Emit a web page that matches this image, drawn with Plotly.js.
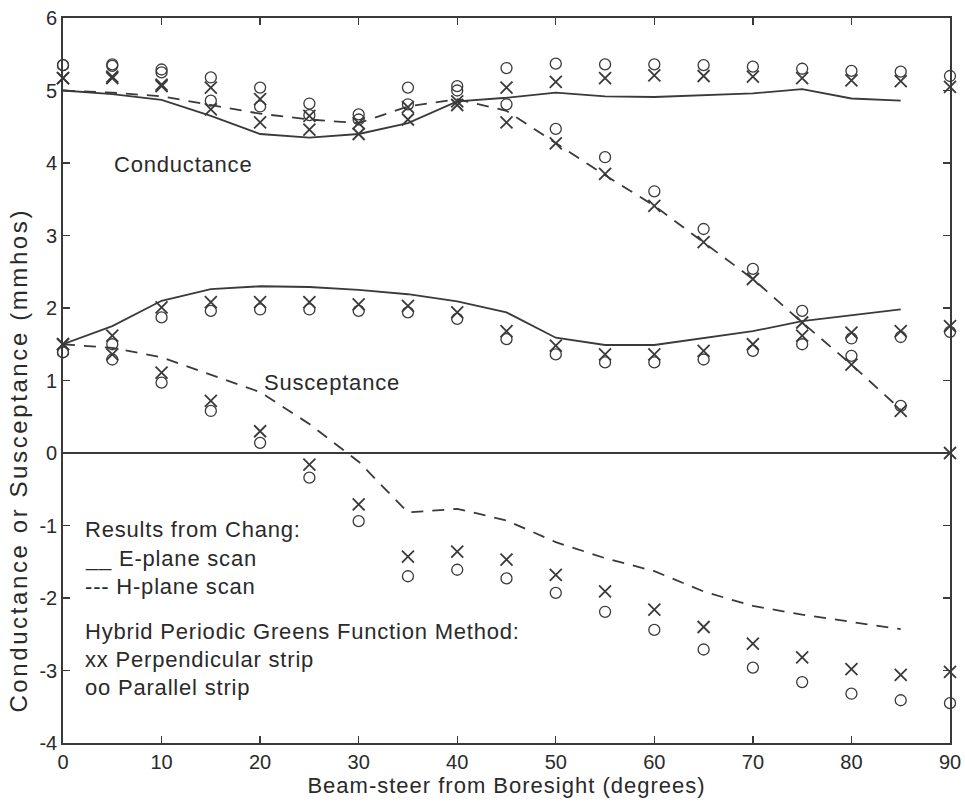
<!DOCTYPE html>
<html>
<head>
<meta charset="utf-8">
<script src="https://cdn.plot.ly/plotly-3.0.1.min.js"></script>
<style>
html,body{margin:0;padding:0;background:#fff;}
#chart{width:965px;height:806px;}
text.annotation-text{letter-spacing:0.8px;}
text.xtitle{letter-spacing:1px;}
</style>
</head>
<body>
<div id="chart"></div>
<script>
// Angles (degrees)
const lineAngles = [0,5,10,15,20,25,30,35,40,45,50,55,60,65,70,75,80,85];
const markerAngles = [0,5,10,15,20,25,30,35,40,45,50,55,60,65,70,75,80,85,90];

// Results from Chang (lines)
const changCondE = [5.0,4.95,4.87,4.65,4.40,4.35,4.40,4.55,4.85,4.90,4.97,4.92,4.91,4.93,4.96,5.02,4.89,4.86];
const changCondH = [5.0,4.97,4.92,4.80,4.68,4.60,4.55,4.78,4.88,4.72,4.27,3.83,3.41,2.91,2.40,1.80,1.22,0.60];
const changSuscE = [1.5,1.75,2.10,2.26,2.30,2.29,2.25,2.19,2.09,1.94,1.59,1.49,1.49,1.58,1.68,1.82,1.90,1.98];
const changSuscH = [1.5,1.45,1.32,1.08,0.84,0.40,-0.12,-0.82,-0.77,-0.93,-1.23,-1.45,-1.63,-1.91,-2.11,-2.23,-2.33,-2.43];

// Hybrid Periodic Greens Function Method (markers)
const condEPerp = [5.17,5.17,5.06,4.74,4.56,4.46,4.40,4.60,4.80,5.04,5.12,5.17,5.21,5.20,5.19,5.17,5.14,5.13,5.05];
const condEPar  = [5.35,5.34,5.25,4.86,4.78,4.66,4.60,4.81,5.00,5.31,5.37,5.36,5.36,5.35,5.33,5.30,5.27,5.26,5.20];
const condHPerp = [5.17,5.19,5.08,5.04,4.88,4.65,4.55,4.77,4.85,4.56,4.27,3.85,3.41,2.91,2.40,1.80,1.22,0.58,0];
const condHPar  = [5.35,5.36,5.29,5.18,5.04,4.82,4.67,5.04,5.06,4.81,4.47,4.08,3.61,3.09,2.54,1.96,1.34,0.65,null];
const suscEPerp = [1.50,1.62,2.01,2.08,2.08,2.08,2.05,2.03,1.94,1.68,1.48,1.36,1.36,1.41,1.50,1.62,1.66,1.68,1.75];
const suscEPar  = [1.39,1.50,1.87,1.96,1.98,1.98,1.96,1.94,1.85,1.57,1.36,1.25,1.25,1.29,1.41,1.50,1.58,1.60,1.67];
const suscHPerp = [1.50,1.36,1.11,0.72,0.30,-0.16,-0.71,-1.43,-1.36,-1.47,-1.68,-1.91,-2.16,-2.40,-2.63,-2.82,-2.98,-3.06,-3.02];
const suscHPar  = [1.39,1.29,0.97,0.58,0.14,-0.34,-0.94,-1.70,-1.61,-1.73,-1.93,-2.19,-2.44,-2.71,-2.96,-3.16,-3.32,-3.41,-3.45];

const xTicks = [0,10,20,30,40,50,60,70,80,90];
const yTicks = [-4,-3,-2,-1,0,1,2,3,4,5,6];

const ink = '#3a3a3a';
const txt = '#2a2a2a';
const font = 'Liberation Sans, Arial, Helvetica, sans-serif';

function lineTrace(y, dashed) {
  return {x: lineAngles, y: y, mode: 'lines', type: 'scatter', hoverinfo: 'skip',
    line: {color: ink, width: 1.8, dash: dashed ? '12px,9px' : 'solid', shape: 'linear'}};
}
function markTrace(y, sym) {
  const isX = sym === 'x';
  return {x: markerAngles, y: y, mode: 'markers', type: 'scatter', hoverinfo: 'skip', cliponaxis: false,
    marker: {symbol: isX ? 'x-thin-open' : 'circle-open', size: isX ? 12 : 11,
      color: ink, line: {color: ink, width: isX ? 1.8 : 1.3}}};
}

const data = [
  lineTrace(changCondE, false), lineTrace(changCondH, true),
  lineTrace(changSuscE, false), lineTrace(changSuscH, true),
  markTrace(condEPerp, 'x'), markTrace(condEPar, 'o'),
  markTrace(condHPerp, 'x'), markTrace(condHPar, 'o'),
  markTrace(suscEPerp, 'x'), markTrace(suscEPar, 'o'),
  markTrace(suscHPerp, 'x'), markTrace(suscHPar, 'o')
];

const annFont = {family: font, size: 22, color: txt};
function note(text, x, y) {
  return {text: text, x: x, y: y, xref: 'x', yref: 'y', showarrow: false,
    xanchor: 'left', yanchor: 'middle', font: annFont};
}

const layout = {
  width: 965, height: 806,
  margin: {l: 63, r: 15, t: 18, b: 63},
  paper_bgcolor: '#fff', plot_bgcolor: '#fff',
  showlegend: false,
  font: {family: font, size: 20, color: txt},
  xaxis: {
    range: [0, 90], tickvals: xTicks, ticktext: xTicks.map(String),
    ticks: 'inside', ticklen: 7, tickwidth: 1.3, tickcolor: ink,
    showline: true, linecolor: ink, linewidth: 1.8, mirror: 'ticks',
    showgrid: false, zeroline: false,
    tickfont: {family: font, size: 20, color: txt},
    title: {text: 'Beam-steer from Boresight (degrees)', font: {family: font, size: 22, color: txt}, standoff: 3}
  },
  yaxis: {
    range: [-4, 6], tickvals: yTicks, ticktext: yTicks.map(String),
    ticks: 'inside', ticklen: 7, tickwidth: 1.3, tickcolor: ink,
    showline: true, linecolor: ink, linewidth: 1.8, mirror: 'ticks',
    showgrid: false, zeroline: true, zerolinecolor: ink, zerolinewidth: 1.8,
    tickfont: {family: font, size: 20, color: txt}
  },
  annotations: [
    {text: 'Conductance or Susceptance (mmhos)', xref: 'paper', yref: 'paper',
     x: -0.051, y: 0.39, textangle: -90, showarrow: false,
     xanchor: 'center', yanchor: 'middle',
     font: {family: font, size: 24, color: txt}},
    note('Conductance', 5, 3.98),
    note('Susceptance', 20.2, 0.97),
    note('Results from Chang:', 2, -1.05),
    note('__ E-plane scan', 2, -1.45),
    note('--- H-plane scan', 2, -1.84),
    note('Hybrid Periodic Greens Function Method:', 2, -2.46),
    note('xx Perpendicular strip', 2, -2.85),
    note('oo Parallel strip', 2, -3.23)
  ]
};

Plotly.newPlot('chart', data, layout, {staticPlot: true, displayModeBar: false}).then(function () {
  // widen the rotated axis caption to the reference's length
  document.querySelectorAll('text.annotation-text').forEach(function (t) {
    if (t.textContent.indexOf('(mmhos)') >= 0) t.style.letterSpacing = '2.6px';
  });
});
</script>
</body>
</html>
